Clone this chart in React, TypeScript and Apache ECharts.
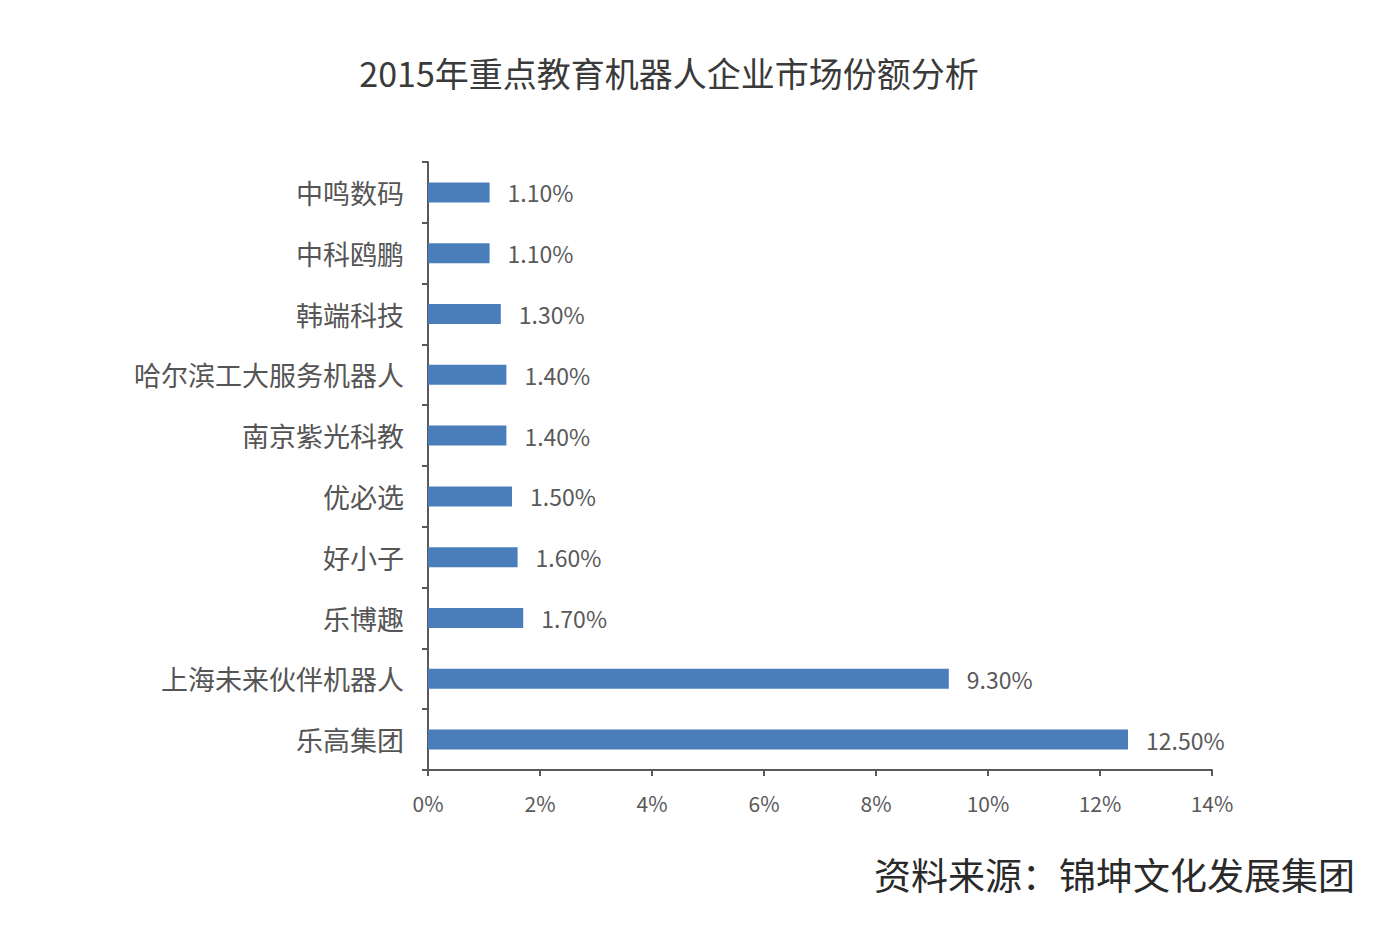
import React, { useEffect, useRef } from "react";
import * as echarts from "echarts";

const categories = [
  "乐高集团",
  "上海未来伙伴机器人",
  "乐博趣",
  "好小子",
  "优必选",
  "南京紫光科教",
  "哈尔滨工大服务机器人",
  "韩端科技",
  "中科鸥鹏",
  "中鸣数码",
];
const shares = [12.5, 9.3, 1.7, 1.6, 1.5, 1.4, 1.4, 1.3, 1.1, 1.1];
const titleText = "2015年重点教育机器人企业市场份额分析";
const sourceText = "资料来源：锦坤文化发展集团";

export default function App() {
  const ref = useRef<HTMLDivElement>(null);
  useEffect(() => {
    document.body.style.margin = "0";
    if (!ref.current) return;
    const chart = echarts.init(ref.current, null, { renderer: "svg" });
    const font = '"Noto Sans CJK SC", "Noto Sans", sans-serif';
    chart.setOption({
      animation: false,
      backgroundColor: "#ffffff",
      textStyle: { fontFamily: font },
      title: {
        text: titleText,
        left: 664,
        textAlign: "center",
        top: 50,
        textStyle: { fontSize: 34, fontWeight: "normal", color: "#3a3a3a", fontFamily: font },
      },
      graphic: [
        {
          type: "text",
          right: 44,
          top: 855,
          style: { text: sourceText, fontSize: 37, fill: "#2a2a2a", fontFamily: font },
        },
      ],
      grid: { left: 428, right: 187, top: 162, bottom: 160, containLabel: false },
      xAxis: {
        type: "value",
        min: 0,
        max: 14,
        interval: 2,
        axisLine: { show: true, lineStyle: { color: "#595959", width: 2 } },
        axisTick: { show: true, length: 6, lineStyle: { color: "#595959", width: 2 } },
        splitLine: { show: false },
        axisLabel: {
          formatter: (v: number) => v + "%",
          fontSize: 21,
          color: "#595959",
          margin: 22,
        },
      },
      yAxis: {
        type: "category",
        data: categories,
        axisLine: { show: true, lineStyle: { color: "#595959", width: 2 } },
        axisTick: { show: true, length: 6, lineStyle: { color: "#595959", width: 2 } },
        axisLabel: { fontSize: 27, color: "#555555", margin: 24 },
      },
      series: [
        {
          type: "bar",
          data: shares,
          barWidth: 20,
          itemStyle: { color: "#4a7ebb" },
          label: {
            show: true,
            position: "right",
            distance: 18,
            fontSize: 23,
            color: "#595959",
            formatter: (p: any) => p.value.toFixed(2) + "%",
          },
        },
      ],
    });
    return () => chart.dispose();
  }, []);
  return <div ref={ref} style={{ width: 1399, height: 930 }} />;
}
